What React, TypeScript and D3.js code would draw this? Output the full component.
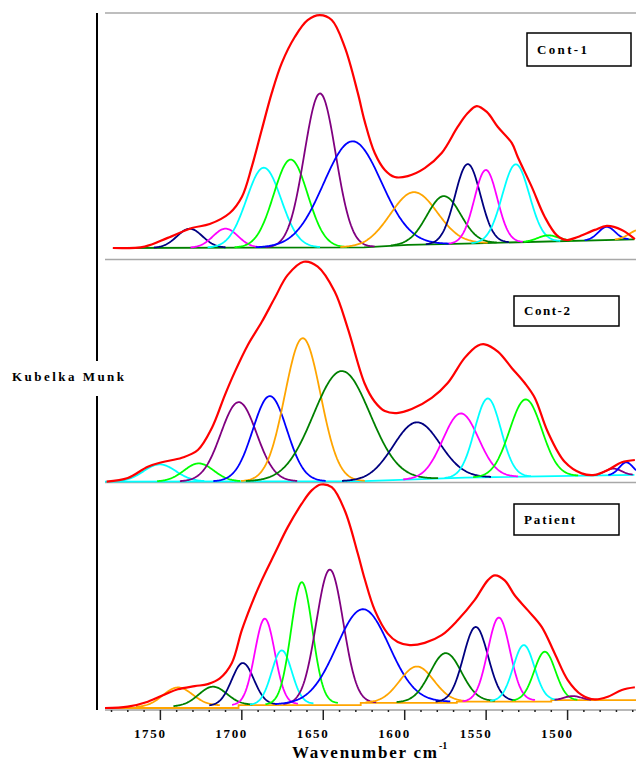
import React from 'react';
import * as d3 from 'd3';

// x axis (wavenumber, cm-1)
const majorTicks = [1750, 1700, 1650, 1600, 1550, 1500];
const minorTicks = [1780, 1770, 1760, 1740, 1730, 1720, 1710, 1690, 1680, 1670, 1660, 1640, 1630, 1620, 1610,
  1590, 1580, 1570, 1560, 1540, 1530, 1520, 1510, 1490, 1480, 1470, 1460];

const panelLabels = ['Cont-1', 'Cont-2', 'Patient'];

// fitted component bands: [centre cm-1, height, FWHM cm-1]
const cont1Peaks: [number, number, number][] = [
  [1732, 8.1, 18.4], [1710, 8.1, 18], [1686.5, 34, 25], [1670, 37.4, 24.5], [1652, 65.5, 22.7],
  [1632, 45.1, 41.7], [1594.4, 22.4, 33.8], [1576, 20.4, 24.5], [1561.3, 33.8, 18.4], [1550.2, 31.1, 16.6],
  [1531.8, 33.2, 19.6], [1512, 2.6, 15], [1476, 5.6, 12], [1456, 4, 14],
];
const cont2Peaks: [number, number, number][] = [
  [1750.4, 7.7, 23.3], [1726.4, 8.1, 21.5], [1701.9, 35.6, 25.8], [1682.8, 38.3, 24.6], [1662.6, 64.3, 25.8],
  [1638.6, 49.5, 41], [1592.6, 25.6, 33.8], [1565.6, 28.9, 25.8], [1549, 35.4, 19], [1525.7, 34.7, 23.3],
  [1472, 3, 12], [1464, 5.7, 10],
];
const patientPeaks: [number, number, number][] = [
  [1739.3, 8.4, 21.5], [1717.8, 8.4, 20.3], [1699.4, 18.6, 16], [1685.9, 38.1, 14.5], [1675.5, 23.9, 14.5],
  [1663.2, 54, 15.5], [1646, 59.3, 19.5], [1625.7, 41.5, 38], [1592.6, 15.8, 24.6], [1574.8, 21.6, 22.7],
  [1556.4, 33, 17.8], [1542.2, 37, 16], [1526.9, 24.6, 15.3], [1514, 21.5, 15.3], [1496.8, 1.8, 12],
];

const cont1Colors = ['#000080', '#ff00ff', '#00ffff', '#00ff00', '#800080', '#0000ff', '#ffa500', '#008000',
  '#000080', '#ff00ff', '#00ffff', '#00ff00', '#0000ff', '#ffa500'];
const cont2Colors = ['#00ffff', '#00ff00', '#800080', '#0000ff', '#ffa500', '#008000', '#000080', '#ff00ff',
  '#00ffff', '#00ff00', '#800080', '#0000ff'];
const patientColors = ['#ffa500', '#008000', '#000080', '#ff00ff', '#00ffff', '#00ff00', '#800080', '#0000ff',
  '#ffa500', '#008000', '#000080', '#ff00ff', '#00ffff', '#00ff00', '#800080'];

// measured spectra (red): [cm-1, Kubelka-Munk]
const cont1Spectrum: [number, number][] = [
  [1779.2, 0], [1759.6, 0.6], [1745.5, 4.3], [1730.7, 8.5], [1719.7, 10.2], [1707.4, 14.9], [1700, 21.7],
  [1693.9, 34.5], [1687.8, 50.2], [1681.6, 66], [1675.5, 78.7], [1667.5, 89.8], [1659.6, 97], [1652.1, 99.1],
  [1644.8, 97], [1636.8, 85.5], [1628.8, 66], [1624.6, 54], [1618.4, 40.4], [1612.2, 33.2], [1606.1, 30.2],
  [1598.1, 30.6], [1587.7, 34], [1577.3, 40.4], [1567.5, 51.5], [1561.3, 57.4], [1555.8, 60.4], [1549.6, 57.9],
  [1542.8, 51.5], [1534.3, 44.7], [1530.6, 38.7], [1522, 26], [1514, 13.2], [1506.7, 5.5], [1500.5, 3.4],
  [1493.8, 4.7], [1483.3, 7.7], [1475.9, 9.4], [1466.7, 7.7], [1458.7, 3.8],
];
const cont2Spectrum: [number, number][] = [
  [1783, 0.4], [1770, 2], [1757.7, 7.1], [1749.1, 9.1], [1736.8, 11.1], [1727, 14.6], [1718.4, 24.5],
  [1710.4, 39.3], [1704.3, 49.7], [1696.3, 61.8], [1687.8, 72.1], [1679.8, 82.9], [1671.8, 93.3], [1662, 99.2],
  [1653.4, 97], [1643, 85.8], [1635, 69.4], [1624.6, 44.5], [1618.4, 36.3], [1612.2, 32.1], [1604.9, 31.2],
  [1595.7, 33], [1583.4, 38], [1573.6, 44.7], [1563.2, 56], [1555.2, 61.5], [1550.9, 62.1], [1542.8, 58.8],
  [1534.3, 51.5], [1526.3, 44.7], [1520.1, 38], [1512.2, 22.8], [1501.8, 9.3], [1491.4, 4.1], [1483.3, 3.4],
  [1475.3, 5.6], [1466.7, 9.1], [1458.7, 10.1],
];
const patientSpectrum: [number, number][] = [
  [1784, 0], [1770, 0.6], [1757.7, 2.8], [1747.3, 6], [1739.3, 8.3], [1728.9, 9.7], [1720.9, 10.6],
  [1713.5, 13.1], [1706.2, 19.8], [1700, 34.5], [1693.9, 46.3], [1687.8, 56.6], [1679.8, 68.5], [1671.8, 80.2],
  [1663.2, 90.6], [1657.1, 96.5], [1651.5, 99.1], [1644.8, 97.9], [1636.8, 87.6], [1628.8, 68.5], [1624.6, 57.3],
  [1618.4, 43.4], [1610.4, 33], [1604.3, 29.3], [1596.9, 27.9], [1587.7, 28.9], [1577.3, 32.3], [1567.5, 38.9],
  [1557.1, 47.8], [1549, 56.6], [1544.7, 58.8], [1538.6, 56.6], [1532.5, 50], [1524.5, 43.4], [1515.9, 36],
  [1507.9, 24.2], [1499.9, 12.4], [1491.4, 5.8], [1483.3, 3.8], [1475.3, 5], [1466.7, 8], [1458.7, 9.2],
];

// fit baselines
const cont1Baseline: [number, number][] = [[1779, 0], [1625, 0.3], [1598, 1.3], [1556, 2], [1459, 3.7]];
const cont2Baseline: [number, number][] = [[1784, 0.4], [1625, 0.6], [1563, 2.2], [1459, 3.4]];
const patientBaseline: [number, number][] = [[1784, 0], [1702, 1.3], [1627, 2.3], [1568, 2.8], [1510, 3.5], [1458, 3.5]];

const panels = [
  { peaks: cont1Peaks, colors: cont1Colors, spectrum: cont1Spectrum, baseline: cont1Baseline, baseColor: '#008000', step: false,
    top: 13, zero: 248, box: [527, 33, 104, 33], textX: 537, textW: 50 },
  { peaks: cont2Peaks, colors: cont2Colors, spectrum: cont2Spectrum, baseline: cont2Baseline, baseColor: '#00ffff', step: false,
    top: 260, zero: 482.5, box: [514, 296, 105, 30], textX: 524, textW: 46 },
  { peaks: patientPeaks, colors: patientColors, spectrum: patientSpectrum, baseline: patientBaseline, baseColor: '#ffa500', step: true,
    top: 482.5, zero: 708, box: [514, 504, 105, 31], textX: 524, textW: 51 },
];

const font = 'Liberation Serif, DejaVu Serif, serif';

const x = d3.scaleLinear().domain([1784, 1458]).range([105, 636]);
const grid = d3.range(1784, 1457.9, -0.5);

const gauss = (w: number, p: [number, number, number]) =>
  p[1] * Math.exp((-4 * Math.LN2 * (w - p[0]) ** 2) / (p[2] * p[2]));

const Panel: React.FC<{ i: number }> = ({ i }) => {
  const p = panels[i];
  const y = d3.scaleLinear().domain([0, 100]).range([p.zero, p.top]);
  const base = d3.scaleLinear().domain(p.baseline.map(d => d[0])).range(p.baseline.map(d => d[1]));
  const line = d3.line<[number, number]>().x(d => x(d[0])).y(d => y(d[1]));
  const baseLine = d3.line<[number, number]>().x(d => x(d[0])).y(d => y(d[1]))
    .curve(p.step ? d3.curveStepAfter : d3.curveLinear);
  const smooth = d3.line<[number, number]>().x(d => x(d[0])).y(d => y(d[1])).curve(d3.curveCatmullRom.alpha(0.5));

  return (
    <g>
      <path d={baseLine(p.baseline) || ''} fill="none" stroke={p.baseColor} strokeWidth={1.8} />
      {p.peaks.map((pk, k) => {
        const pts = grid
          .filter(w => gauss(w, pk) > 0.15)
          .map(w => [w, base(w) + gauss(w, pk)] as [number, number]);
        return <path key={k} d={line(pts) || ''} fill="none" stroke={p.colors[k]} strokeWidth={1.8} />;
      })}
      <path d={smooth(p.spectrum) || ''} fill="none" stroke="#ff0000" strokeWidth={2.2} />
      <rect x={p.box[0]} y={p.box[1]} width={p.box[2]} height={p.box[3]} fill="white" stroke="black" strokeWidth={1.5} />
      <text x={p.textX} y={p.box[1] + p.box[3] / 2 + 4} fontFamily={font} fontWeight="bold" fontSize={13}
        textLength={p.textW} lengthAdjust="spacing">
        {panelLabels[i]}
      </text>
    </g>
  );
};

export default function App() {
  const axisY = 710;
  return (
    <svg width={636} height={761} style={{ position: 'absolute', left: 0, top: 0, background: 'white' }}>
      {/* panel frames */}
      {[13, 259.5, 482.5].map(v => (
        <line key={v} x1={105} x2={636} y1={v} y2={v} stroke="#a8a8a8" strokeWidth={1.5} />
      ))}
      {panels.map((_, i) => <Panel key={i} i={i} />)}

      {/* x axis */}
      <line x1={105} x2={636} y1={axisY} y2={axisY} stroke="#a0a0a0" strokeWidth={1.5} />
      {minorTicks.map(t => (
        <line key={t} x1={x(t)} x2={x(t)} y1={axisY} y2={axisY + 2} stroke="#222" strokeWidth={1.5} />
      ))}
      {majorTicks.map(t => (
        <g key={t}>
          <line x1={x(t)} x2={x(t)} y1={axisY} y2={axisY + 10} stroke="#222" strokeWidth={1.5} />
          <text x={x(t) - 11} y={738} textAnchor="middle" fontFamily={font} fontWeight="bold" fontSize={13}
            textLength={31} lengthAdjust="spacing">{t}</text>
        </g>
      ))}
      <text x={292} y={758} fontFamily={font} fontWeight="bold" fontSize={17} textLength={145} lengthAdjust="spacing">
        Wavenumber cm
      </text>
      <text x={439} y={749} fontFamily={font} fontWeight="bold" fontSize={10}>-1</text>

      {/* y axis */}
      <line x1={97} x2={97} y1={13} y2={361} stroke="black" strokeWidth={2} />
      <line x1={97} x2={97} y1={396} y2={710} stroke="black" strokeWidth={2} />
      <text x={12} y={381} fontFamily={font} fontWeight="bold" fontSize={13} textLength={112} lengthAdjust="spacing">
        Kubelka Munk
      </text>
    </svg>
  );
}
